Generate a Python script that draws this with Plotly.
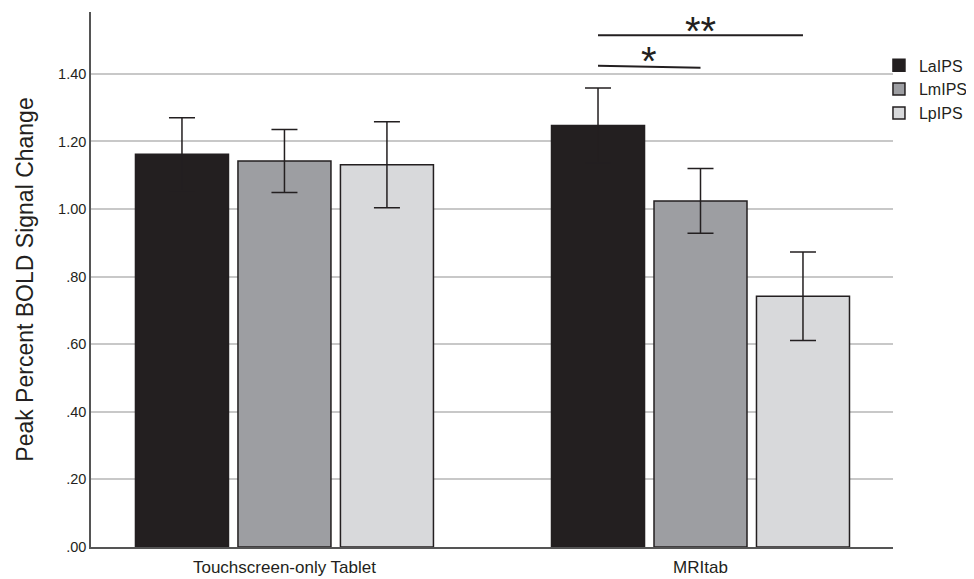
import plotly.graph_objects as go

categories = ["Touchscreen-only Tablet", "MRItab"]
series_names = ["LaIPS", "LmIPS", "LpIPS"]
laips = [1.162, 1.247]
lmips = [1.142, 1.024]
lpips = [1.131, 0.742]
laips_err = [0.108, 0.111]
lmips_err = [0.093, 0.096]
lpips_err = [0.127, 0.131]
ytick_vals = [0, 0.2, 0.4, 0.6, 0.8, 1.0, 1.2, 1.4]
ytick_text = [".00", ".20", ".40", ".60", ".80", "1.00", "1.20", "1.40"]

colors = ["#231f20", "#9d9ea2", "#d8d9db"]
xpos = list(range(len(categories)))

bargap = 0.261
bargroupgap = 0.0925
slot = (1 - bargap) / 3

fig = go.Figure()
for name, vals, errs, col in zip(series_names, [laips, lmips, lpips],
                                 [laips_err, lmips_err, lpips_err], colors):
    fig.add_trace(go.Bar(
        x=xpos, y=vals, name=name,
        marker=dict(color=col, line=dict(color="#231f20", width=1.5)),
        error_y=dict(type="data", array=errs, visible=True,
                     color="#231f20", thickness=1.5, width=13),
    ))

# significance lines (MRItab group)
g = 1
xa, xb, xc = g - slot, g, g + slot
fig.add_shape(type="line", x0=xa, x1=xc, y0=1.514, y1=1.514, xref="x", yref="y",
              line=dict(color="#231f20", width=2))
fig.add_shape(type="line", x0=xa, x1=xb, y0=1.424, y1=1.418, xref="x", yref="y",
              line=dict(color="#231f20", width=2))
fig.add_annotation(x=(xa + xc) / 2, y=1.526, xref="x", yref="y", text="**",
                   showarrow=False, font=dict(size=40, color="#231f20",
                                              family="Liberation Sans, Arial"),
                   yanchor="middle")
fig.add_annotation(x=(xa + xb) / 2, y=1.437, xref="x", yref="y", text="*",
                   showarrow=False, font=dict(size=40, color="#231f20",
                                              family="Liberation Sans, Arial"),
                   yanchor="middle")

fig.update_layout(
    width=966, height=571,
    margin=dict(l=83, r=81, t=4, b=32, autoexpand=False),
    paper_bgcolor="white", plot_bgcolor="white",
    barmode="group", bargap=bargap, bargroupgap=bargroupgap,
    font=dict(family="Liberation Sans, Arial", color="#231f20"),
    showlegend=True,
    legend=dict(x=0.9825, y=0.932, xanchor="left", yanchor="top",
                font=dict(size=16, color="#231f20"), tracegroupgap=0,
                bgcolor="rgba(0,0,0,0)", borderwidth=0, itemwidth=30),
    xaxis=dict(range=[-0.465, 1.4627], tickvals=xpos, ticktext=categories,
               showgrid=False, zeroline=False, showline=True, automargin=False,
               linecolor="#555555", linewidth=1.5, ticks="", ticklabelstandoff=4,
               tickfont=dict(size=17, color="#231f20")),
    yaxis=dict(range=[0, 1.583], tickvals=ytick_vals, ticktext=ytick_text,
               showgrid=True, gridcolor="#c8c8c8", gridwidth=1.5, automargin=False,
               zeroline=False, showline=True, linecolor="#555555",
               linewidth=1.5, ticks="", tickfont=dict(size=14.5, color="#231f20"),
               title=dict(text="Peak Percent BOLD Signal Change",
                          font=dict(size=23, color="#231f20"), standoff=18)),
)

fig.write_html("out.html")
